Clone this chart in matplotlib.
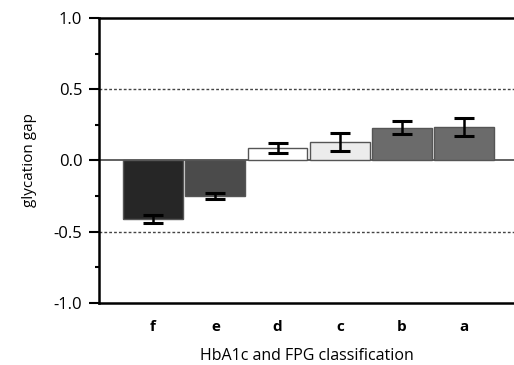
import numpy as np
import matplotlib
matplotlib.use("Agg")
import matplotlib.pyplot as plt

plt.rcParams['font.family'] = ['Open Sans', 'DejaVu Sans']

# data
categories = ['f', 'e', 'd', 'c', 'b', 'a']
gap_means = [-0.41, -0.25, 0.09, 0.13, 0.23, 0.235]
gap_errors = [0.03, 0.02, 0.035, 0.06, 0.045, 0.06]
bar_colors = ['#262626', '#4b4b4b', '#ffffff', '#ececec', '#6b6b6b', '#6b6b6b']
y_ticks = [-1.0, -0.5, 0.0, 0.5, 1.0]


def main():
    fig = plt.figure(figsize=(5.14, 3.65), dpi=100)
    ax = fig.add_axes([0.1926, 0.1699, 0.8074, 0.7808])

    x = np.arange(len(categories))
    ax.bar(x, gap_means, width=0.96, color=bar_colors,
           edgecolor='#555555', linewidth=1.0, zorder=3)
    ax.errorbar(x, gap_means, yerr=gap_errors, fmt='none', ecolor='black',
                elinewidth=1.8, capsize=7, capthick=2.2, zorder=4)

    # reference lines
    ax.axhline(0, color='#555555', linewidth=1.3, zorder=2)
    for yv in (0.5, -0.5):
        ax.axhline(yv, color='#444444', linewidth=1.0, linestyle=(0, (2, 1.5)), zorder=1)

    ax.set_xlim(-0.87, 5.8)
    ax.set_ylim(-1.0, 1.0)
    ax.set_yticks(y_ticks)
    ax.set_yticklabels([f"{v:.1f}" for v in y_ticks])
    ax.set_yticks([-0.75, -0.25, 0.25, 0.75], minor=True)
    ax.tick_params(axis='y', which='major', length=7, width=1.5, labelsize=12, pad=5)
    ax.tick_params(axis='y', which='minor', length=3, width=1.5)

    ax.set_xticks(x)
    ax.set_xticklabels(categories, fontweight='bold', fontsize=11)
    ax.tick_params(axis='x', length=0, pad=12)

    for side in ('left', 'bottom', 'top'):
        ax.spines[side].set_linewidth(1.8)
    ax.spines['right'].set_visible(False)

    ax.set_ylabel('glycation gap', fontsize=11)
    ax.yaxis.set_label_coords(-0.15, 0.5)
    ax.set_xlabel('HbA1c and FPG classification', fontsize=11.5, labelpad=10)

    fig.savefig('out.png', dpi=100)
    plt.close(fig)


if __name__ == "__main__":
    main()
